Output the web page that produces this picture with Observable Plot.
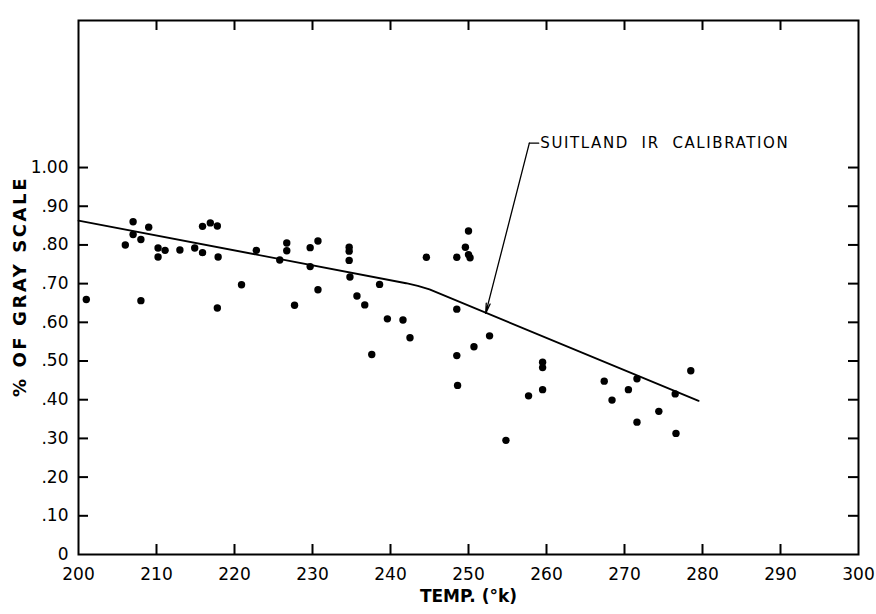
<!DOCTYPE html>
<html>
<head>
<meta charset="utf-8">
<script src="https://cdn.jsdelivr.net/npm/d3@7"></script>
<script src="https://cdn.jsdelivr.net/npm/@observablehq/plot@0.6"></script>
<style>
  html, body { margin: 0; padding: 0; background: #fff; }
</style>
</head>
<body>
<div id="chart"></div>
<script>
// Observed points: temperature (K) and fraction of gray scale
const temps = [201, 206, 207, 207, 208, 208, 209, 210.2, 210.2, 211.1, 213, 214.9, 215.9, 215.9, 216.9, 217.8, 217.9, 217.8,
  220.9, 222.8, 225.8, 226.7, 226.7, 227.7, 229.7, 230.7, 229.7, 230.7, 234.7, 234.7, 234.7, 234.8, 235.7, 236.7, 238.6, 237.6,
  239.6, 241.6, 242.5, 244.6, 248.5, 248.5, 249.6, 250.0, 250.0, 250.2, 248.5, 248.6, 250.7, 252.7, 254.8, 257.7, 259.5,
  259.5, 259.5, 267.4, 270.5, 271.6, 268.4, 274.4, 271.6, 276.5, 276.6, 278.5];
const grays = [0.659, 0.800, 0.860, 0.827, 0.814, 0.656, 0.846, 0.792, 0.769, 0.786, 0.787, 0.792, 0.780, 0.848, 0.857, 0.849, 0.769, 0.637,
  0.697, 0.786, 0.761, 0.805, 0.785, 0.644, 0.793, 0.810, 0.744, 0.684, 0.794, 0.784, 0.760, 0.717, 0.668, 0.645, 0.698, 0.517,
  0.609, 0.606, 0.560, 0.768, 0.634, 0.768, 0.794, 0.836, 0.775, 0.767, 0.514, 0.437, 0.537, 0.565, 0.295, 0.410, 0.426,
  0.497, 0.483, 0.448, 0.426, 0.454, 0.399, 0.370, 0.342, 0.415, 0.313, 0.475];

// Suitland IR calibration curve
const calTemps = [200, 242, 243.5, 245, 279.5];
const calGrays = [0.863, 0.701, 0.694, 0.685, 0.397];

// Annotation
const annotText = "SUITLAND\u00a0 IR\u00a0 CALIBRATION";
const annotTemp = [259.0, 257.8, 252.2];
const annotGray = [1.063, 1.063, 0.623];

// Ticks
const xTicks = [200, 210, 220, 230, 240, 250, 260, 270, 280, 290, 300];
const xInnerTicks = [210, 220, 230, 240, 250, 260, 270, 280, 290];
const yTicks = [0, 0.1, 0.2, 0.3, 0.4, 0.5, 0.6, 0.7, 0.8, 0.9, 1.0];
const yInnerTicks = [0.1, 0.2, 0.3, 0.4, 0.5, 0.6, 0.7, 0.8, 0.9, 1.0];
const xTitle = "TEMP. (°k)";
const yTitle = "% OF GRAY SCALE";

const points = temps.map((t, i) => ({t, g: grays[i]}));
const cal = calTemps.map((t, i) => ({t, g: calGrays[i]}));
const yFmt = d => d === 0 ? "0" : d === 1 ? "1.00" : d3.format(".2f")(d).replace(/^0/, "");

const W = 876, H = 614, ML = 78, MR = 18, MT = 20, MB = 60;
const plotW = W - ML - MR, plotH = H - MT - MB, TL = 10;

const svg = Plot.plot({
  width: W,
  height: H,
  marginLeft: ML,
  marginRight: MR,
  marginTop: MT,
  marginBottom: MB,
  style: {fontFamily: "DejaVu Sans", fontSize: "17px", background: "#fff", color: "#000"},
  x: {domain: [200, 300], axis: null},
  y: {domain: [0, 1.38], axis: null},
  marks: [
    Plot.frame({stroke: "#000", strokeWidth: 2}),
    // inward ticks
    Plot.ruleX(xInnerTicks, {insetTop: plotH - TL, stroke: "#000", strokeWidth: 2}),
    Plot.ruleX(xInnerTicks, {insetBottom: plotH - TL, stroke: "#000", strokeWidth: 2}),
    Plot.ruleY(yInnerTicks, {insetRight: plotW - TL, stroke: "#000", strokeWidth: 2}),
    Plot.ruleY(yInnerTicks, {insetLeft: plotW - TL, stroke: "#000", strokeWidth: 2}),
    // labels
    Plot.axisX({anchor: "bottom", ticks: xTicks, tickSize: 0, tickPadding: 13, tickFormat: d => String(d), label: null}),
    Plot.axisY({anchor: "left", ticks: yTicks, tickSize: 0, tickPadding: 10, tickFormat: yFmt, label: null}),
    Plot.text([xTitle], {frameAnchor: "bottom", dy: 47, fontWeight: "bold", fontSize: 17}),
    Plot.text([yTitle], {frameAnchor: "left", textAnchor: "middle", dx: -58, dy: -1, rotate: -90, fontWeight: "bold", fontSize: 18}),
    // calibration line
    Plot.line(cal, {x: "t", y: "g", stroke: "#000", strokeWidth: 1.8}),
    // data
    Plot.dot(points, {x: "t", y: "g", r: 3.7, fill: "#000", stroke: "none"}),
    // annotation
    Plot.line(annotTemp.slice(0, 2).map((t, i) => ({t, g: annotGray[i]})), {x: "t", y: "g", stroke: "#000", strokeWidth: 1.3}),
    Plot.arrow([{x1: annotTemp[1], y1: annotGray[1], x2: annotTemp[2], y2: annotGray[2]}],
      {x1: "x1", y1: "y1", x2: "x2", y2: "y2", stroke: "#000", strokeWidth: 1.3, headLength: 12, headAngle: 22}),
    Plot.text([annotText], {x: annotTemp[0] + 0.2, y: annotGray[0], textAnchor: "start", fontSize: 15})
  ]
});

d3.select(svg).selectAll("text").filter(function() { return this.textContent === annotText; })
  .attr("letter-spacing", "1.6px");
d3.select(svg).selectAll("text").filter(function() { return this.textContent === yTitle; })
  .attr("letter-spacing", "2.6px");

document.getElementById("chart").appendChild(svg);
</script>
</body>
</html>
